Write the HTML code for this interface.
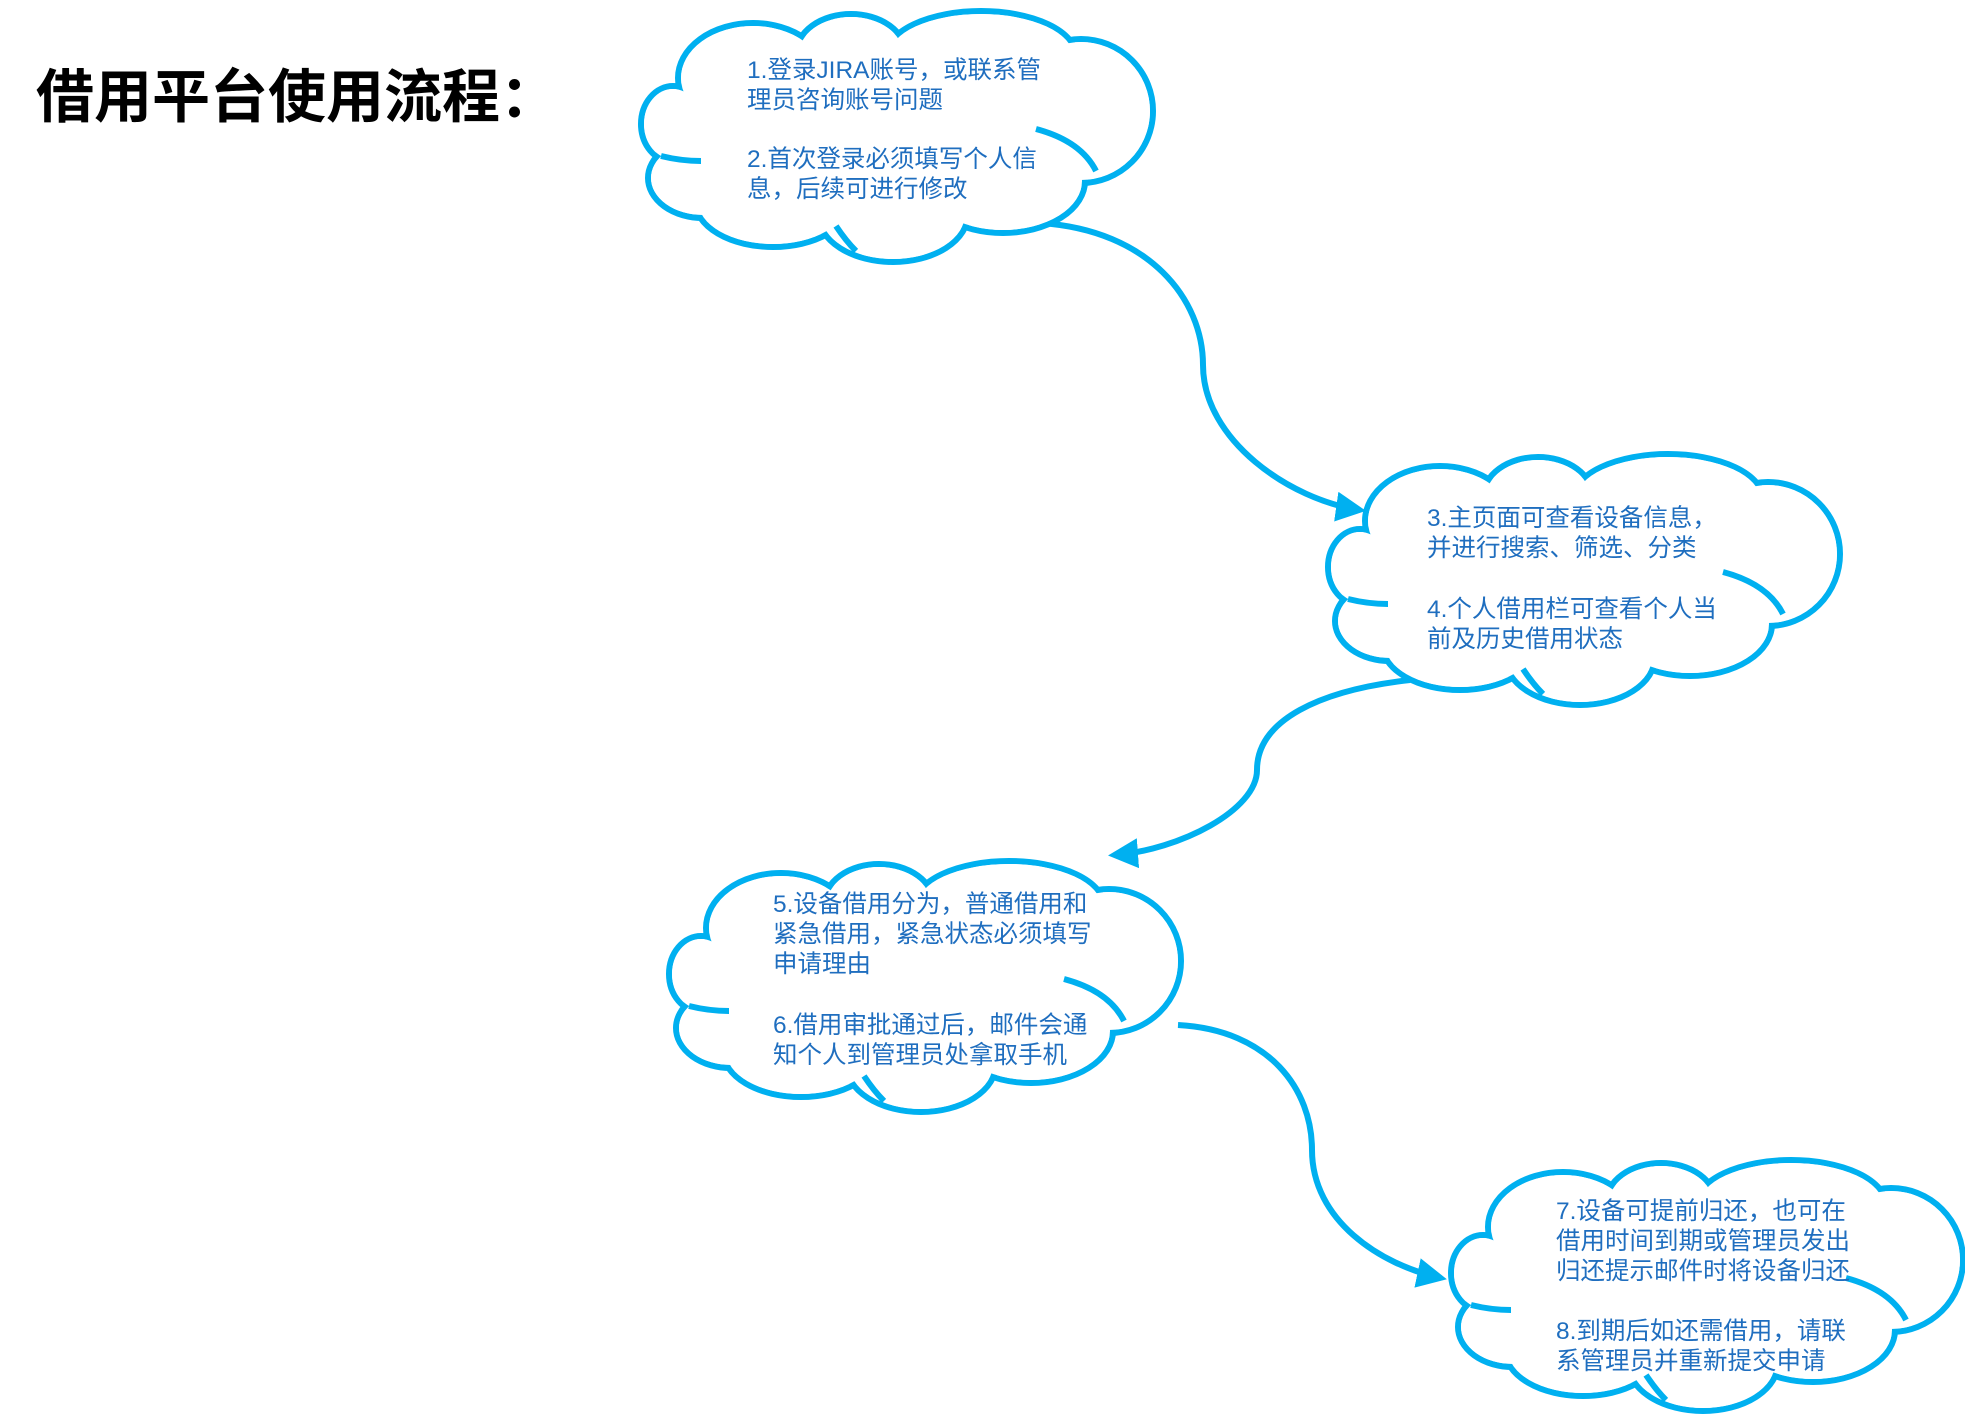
<!DOCTYPE html>
<html><head><meta charset="utf-8"><style>
html,body{margin:0;padding:0;background:#fff;}
body{width:1965px;height:1416px;position:relative;overflow:hidden;font-family:"Liberation Sans","Noto Sans CJK SC",sans-serif;}
.t{position:absolute;color:#1f6ebf;font-size:24.5px;line-height:30px;white-space:nowrap;}
h1{position:absolute;left:36px;top:50px;margin:0;font-size:58px;font-weight:bold;color:#000;font-family:"Liberation Sans","Noto Sans CJK SC",sans-serif;}
</style></head><body>
<svg width="1965" height="1416" style="position:absolute;left:0;top:0">
<defs>
<g id="cloud">
 <g fill="none" stroke="#00b0f0" stroke-width="6">
  <ellipse cx="32" cy="118" rx="32" ry="38"/>
  <ellipse cx="112" cy="72" rx="75" ry="55"/>
  <ellipse cx="210" cy="48" rx="55" ry="40"/>
  <ellipse cx="340" cy="50" rx="95" ry="45"/>
  <ellipse cx="440" cy="105" rx="72" ry="72"/>
  <ellipse cx="362" cy="175" rx="82" ry="52"/>
  <ellipse cx="252" cy="208" rx="75" ry="48"/>
  <ellipse cx="132" cy="195" rx="78" ry="46"/>
  <ellipse cx="62" cy="172" rx="55" ry="40"/>
 </g>
 <g fill="#fff">
  <ellipse cx="32" cy="118" rx="29" ry="35"/>
  <ellipse cx="112" cy="72" rx="72" ry="52"/>
  <ellipse cx="210" cy="48" rx="52" ry="37"/>
  <ellipse cx="340" cy="50" rx="92" ry="42"/>
  <ellipse cx="440" cy="105" rx="69" ry="69"/>
  <ellipse cx="362" cy="175" rx="79" ry="49"/>
  <ellipse cx="252" cy="208" rx="72" ry="45"/>
  <ellipse cx="132" cy="195" rx="75" ry="43"/>
  <ellipse cx="62" cy="172" rx="52" ry="37"/>
  <ellipse cx="250" cy="130" rx="200" ry="90"/>
 </g>
 <g fill="none" stroke="#00b0f0" stroke-width="6">
  <path d="M20,150 Q40,155 60,155"/>
  <path d="M395,123 Q440,135 455,165"/>
  <path d="M195,220 Q205,235 215,245"/>
 </g>
</g>
<marker id="ar" viewBox="0 0 10 10" refX="8" refY="5" markerWidth="5" markerHeight="5" orient="auto" markerUnits="strokeWidth">
 <path d="M0,0 L10,5 L0,10 z" fill="#00b0f0"/>
</marker>
</defs>
<g fill="none" stroke="#00b0f0" stroke-width="6">
 <path d="M1040,223 C1150,230 1203,300 1203,365 C1203,440 1290,500 1360,510" marker-end="url(#ar)"/>
 <path d="M1410,680 C1320,690 1257,720 1257,770 C1257,810 1180,850 1114,855" marker-end="url(#ar)"/>
 <path d="M1178,1025 C1270,1030 1312,1090 1312,1150 C1312,1220 1380,1265 1441,1278" marker-end="url(#ar)"/>
</g>
<use href="#cloud" x="641" y="6"/>
<use href="#cloud" x="1328" y="449"/>
<use href="#cloud" x="669" y="856"/>
<use href="#cloud" x="1451" y="1155"/>
</svg>
<h1>借用平台使用流程：</h1>
<div class="t" style="left:747px;top:56px">1.登录JIRA账号，或联系管<br>理员咨询账号问题</div>
<div class="t" style="left:747px;top:145px">2.首次登录必须填写个人信<br>息，后续可进行修改</div>
<div class="t" style="left:1427px;top:504px">3.主页面可查看设备信息，<br>并进行搜索、筛选、分类</div>
<div class="t" style="left:1427px;top:595px">4.个人借用栏可查看个人当<br>前及历史借用状态</div>
<div class="t" style="left:773px;top:890px">5.设备借用分为，普通借用和<br>紧急借用，紧急状态必须填写<br>申请理由</div>
<div class="t" style="left:773px;top:1011px">6.借用审批通过后，邮件会通<br>知个人到管理员处拿取手机</div>
<div class="t" style="left:1556px;top:1197px">7.设备可提前归还，也可在<br>借用时间到期或管理员发出<br>归还提示邮件时将设备归还</div>
<div class="t" style="left:1556px;top:1317px">8.到期后如还需借用，请联<br>系管理员并重新提交申请</div>
</body></html>
